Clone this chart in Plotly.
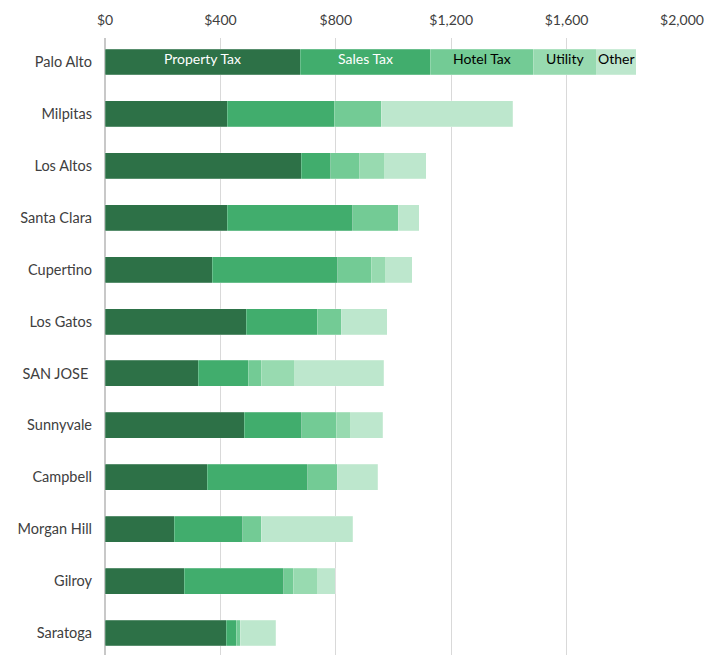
import plotly.graph_objects as go

cities = ["Palo Alto", "Milpitas", "Los Altos", "Santa Clara", "Cupertino", "Los Gatos",
          "SAN JOSE ", "Sunnyvale", "Campbell", "Morgan Hill", "Gilroy", "Saratoga"]
property_tax = [677, 423, 680, 424, 372, 490, 324, 482, 355, 240, 274, 421]
sales_tax = [450, 371, 103, 435, 435, 245, 172, 200, 347, 238, 346, 34]
hotel_tax = [358, 164, 100, 159, 115, 85, 46, 119, 105, 63, 32, 13]
utility = [220, 0, 86, 0, 51, 0, 116, 51, 0, 0, 86, 0]
other = [136, 455, 145, 72, 92, 158, 309, 111, 139, 317, 60, 123]

series_names = ["Property Tax", "Sales Tax", "Hotel Tax", "Utility", "Other"]
series_vals = [property_tax, sales_tax, hotel_tax, utility, other]
colors = ["#2D7147", "#41AD6D", "#73CB95", "#98DAB0", "#BDE7CD"]
label_colors = ["white", "white", "black", "black", "black"]
tick_vals = [0, 400, 800, 1200, 1600, 2000]
tick_text = ["$0", "$400", "$800", "$1,200", "$1,600", "$2,000"]

font_family = "Lato, 'Open Sans', sans-serif"

fig = go.Figure()
for name, vals, col in zip(series_names, series_vals, colors):
    fig.add_trace(go.Bar(
        y=cities, x=vals, name=name, orientation="h",
        marker=dict(color=col, line=dict(color="rgba(255,255,255,0.35)", width=0.6)),
        hoverinfo="x+y+name",
    ))

# in-bar labels on the first city (Palo Alto)
cum = 0
for name, vals, lc in zip(series_names, series_vals, label_colors):
    mid = cum + vals[0] / 2
    cum += vals[0]
    fig.add_annotation(x=mid, y=cities[0], text=name, showarrow=False,
                       font=dict(color=lc, size=14, family=font_family),
                       yshift=3, xref="x", yref="y")

fig.update_layout(
    barmode="stack",
    bargap=0.5,
    width=712, height=655,
    margin=dict(l=105, r=30, t=38, b=0),
    paper_bgcolor="white", plot_bgcolor="white",
    showlegend=False,
    font=dict(family=font_family, size=14, color="#404040"),
    xaxis=dict(
        side="top", range=[0, 2000], tickvals=tick_vals, ticktext=tick_text,
        showgrid=True, gridcolor="#D9D9D9", gridwidth=1,
        zeroline=True, zerolinecolor="#C8C8C8", zerolinewidth=1.5,
        showline=False, ticks="", tickfont=dict(size=14, color="#404040"),
        ticklabelstandoff=9,
    ),
    yaxis=dict(
        categoryorder="array", categoryarray=cities,
        range=[11.424, -0.462], showgrid=False, ticks="",
        ticklabelstandoff=12, tickfont=dict(size=14.5, color="#404040"),
    ),
)

fig.write_html("out.html")
